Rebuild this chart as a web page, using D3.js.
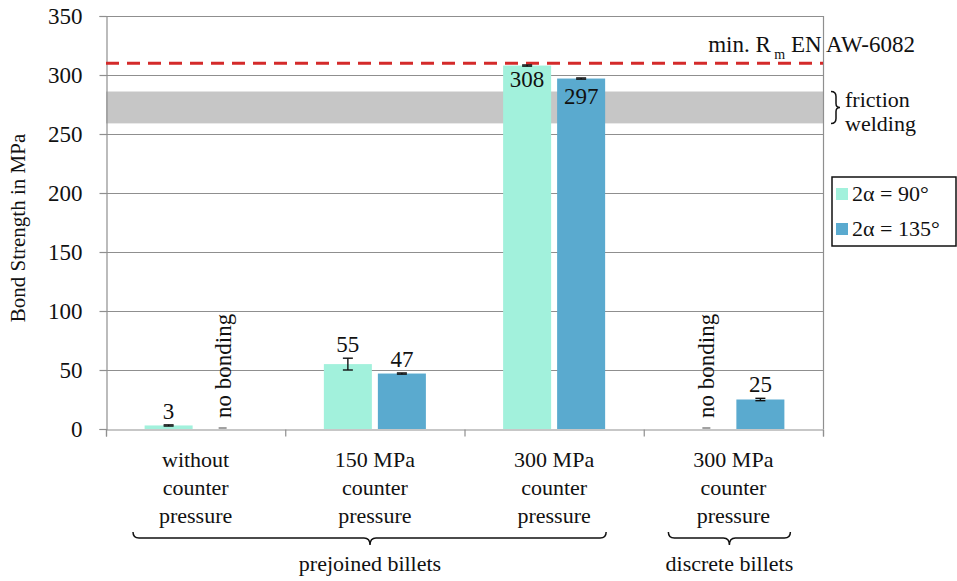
<!DOCTYPE html>
<html><head><meta charset="utf-8">
<script src="https://cdn.jsdelivr.net/npm/d3@7/dist/d3.min.js"></script>
<style>body{margin:0;background:#fff}svg text{font-family:'Liberation Serif','DejaVu Serif','Tinos','Nimbus Roman','FreeSerif','Times New Roman',Times,serif !important;fill:#111}</style>
</head><body><svg id="c" width="957" height="581"></svg>
<script>
const categories = ["without|counter|pressure","150 MPa|counter|pressure","300 MPa|counter|pressure","300 MPa|counter|pressure"];
const series = ["2α = 90°","2α = 135°"];
const vals90  = [3, 55, 308, null];
const vals135 = [null, 47, 297, 25];
const err90  = [0.5, 5, 0.5, 0];
const err135 = [0, 0.5, 0.5, 1];
const yTicks = [0,50,100,150,200,250,300,350];
const rmLine = 310;
const frictionBand = [259, 286];
const groups = [{label:"prejoined billets", from:0, to:2},{label:"discrete billets", from:3, to:3}];

const colors = ["#a2f1dc","#5aaacf"];
const svg = d3.select("#c");
const L=106,R=823,T=16,B=429;
const y = d3.scaleLinear().domain([0,350]).range([B,T]);
const x0 = d3.scaleBand().domain(d3.range(categories.length)).range([L,R]);
const x1 = d3.scaleBand().domain(d3.range(series.length)).range([0,x0.bandwidth()]).paddingInner(0.111).paddingOuter(0.715);

svg.append("rect").attr("x",L).attr("width",R-L).attr("y",y(frictionBand[1])).attr("height",y(frictionBand[0])-y(frictionBand[1])).attr("fill","#c6c6c6");
svg.append("g").selectAll("line").data(yTicks.filter(d=>d>0)).join("line")
 .attr("x1",L).attr("x2",R).attr("y1",d=>y(d)+0.5).attr("y2",d=>y(d)+0.5).attr("stroke","#8f8f8f").attr("stroke-width",1.2);
svg.append("line").attr("x1",R+0.5).attr("x2",R+0.5).attr("y1",T).attr("y2",B).attr("stroke","#8f8f8f").attr("stroke-width",1.2);
const ya = svg.append("g").attr("transform",`translate(${L+0.5},0)`).call(d3.axisLeft(y).tickValues(yTicks).tickSize(7).tickPadding(17));
ya.select(".domain").attr("stroke","#8f8f8f").attr("stroke-width",1.2);
ya.selectAll(".tick line").attr("stroke","#8f8f8f").attr("stroke-width",1.2);
ya.selectAll("text").style("font-size","23px").attr("fill","#111");
const xa = svg.append("g").attr("transform",`translate(0,${B+0.5})`).call(d3.axisBottom(d3.scaleLinear().domain([0,4]).range([L,R])).tickValues([0,1,2,3,4]).tickSize(7).tickFormat(""));
xa.select(".domain").attr("stroke","#8f8f8f").attr("stroke-width",1.2);
xa.selectAll(".tick line").attr("stroke","#8f8f8f").attr("stroke-width",1.2);

svg.append("line").attr("x1",L).attr("x2",R).attr("y1",y(rmLine)).attr("y2",y(rmLine)).attr("stroke","#d42a2a").attr("stroke-width",3).attr("stroke-dasharray","13,8");

const allVals=[vals90,vals135], allErr=[err90,err135];
allVals.forEach((vals,s)=>{
  vals.forEach((v,i)=>{
    const bx = x0(i)+x1(s), bw=x1.bandwidth(), cx=bx+bw/2;
    if(v===null){
      svg.append("line").attr("x1",cx-4).attr("x2",cx+4).attr("y1",B-1).attr("y2",B-1).attr("stroke","#444").attr("stroke-width",1);
      svg.append("text").attr("transform",`translate(${cx+8},${B-11}) rotate(-90)`).style("font-size","23px").text("no bonding");
      return;
    }
    svg.append("rect").attr("x",bx).attr("width",bw).attr("y",y(v)).attr("height",B-y(v)).attr("fill",colors[s]);
    const e=allErr[s][i];
    const g=svg.append("g").attr("stroke","#111").attr("stroke-width",1.4);
    g.append("line").attr("x1",cx).attr("x2",cx).attr("y1",y(v+e)).attr("y2",y(v-e));
    g.append("line").attr("x1",cx-5).attr("x2",cx+5).attr("y1",y(v+e)).attr("y2",y(v+e));
    g.append("line").attr("x1",cx-5).attr("x2",cx+5).attr("y1",y(v-e)).attr("y2",y(v-e));
    const inside = v>250;
    svg.append("text").attr("x",cx).attr("y",inside? y(v)+(s===0?21:25) : y(v+e)-6).attr("text-anchor","middle").style("font-size","23px").text(v);
  });
});

categories.forEach((c,i)=>{
  const cx=x0(i)+x0.bandwidth()/2;
  c.split("|").forEach((t,k)=>svg.append("text").attr("x",cx).attr("y",467+k*28).attr("text-anchor","middle").style("font-size","22px").text(t));
});

function hbrace(x1,x2,yTop,h,tip){
  const r=6;
  return `M${x1},${yTop} Q${x1},${yTop+r} ${x1+r},${yTop+r} L${tip-r},${yTop+r} Q${tip},${yTop+r} ${tip},${yTop+h} Q${tip},${yTop+r} ${tip+r},${yTop+r} L${x2-r},${yTop+r} Q${x2},${yTop+r} ${x2},${yTop}`;
}
groups.forEach(g=>{
  const ga = g.from===3 ? x0(g.from)+x1(0)-14 : L+27;
  const gb = g.from===3 ? x0(g.to)+x1(1)+x1.bandwidth()+6 : x0(g.to)+x1(1)+x1.bandwidth()+1;
  const tip = g.from===3?(ga+gb)/2:370;
  svg.append("path").attr("d",hbrace(ga,gb,532,13,tip)).attr("fill","none").attr("stroke","#111").attr("stroke-width",1.5);
  svg.append("text").attr("x",tip).attr("y",571).attr("text-anchor","middle").style("font-size","22px").text(g.label);
});

svg.append("text").attr("transform",`translate(25,228) rotate(-90)`).attr("text-anchor","middle").style("font-size","21px").text("Bond Strength in MPa");

const rt = svg.append("text").attr("x",915).attr("y",52).attr("text-anchor","end").style("font-size","23px");
rt.append("tspan").text("min. R");
rt.append("tspan").attr("dy",7).style("font-size","14px").text(" m");
rt.append("tspan").attr("dy",-7).text(" EN AW-6082");

const fy1=y(frictionBand[1]), fy2=y(frictionBand[0]), fm=(fy1+fy2)/2;
svg.append("path").attr("d",`M831,${fy1} Q836,${fy1} 836,${fy1+5} L836,${fm-4} Q836,${fm} 840,${fm} Q836,${fm} 836,${fm+4} L836,${fy2-5} Q836,${fy2} 831,${fy2}`).attr("fill","none").attr("stroke","#111").attr("stroke-width",1.5);
svg.append("text").attr("x",845).attr("y",107).style("font-size","22px").text("friction");
svg.append("text").attr("x",845).attr("y",131).style("font-size","22px").text("welding");

const lg=svg.append("g");
lg.append("rect").attr("x",832).attr("y",177).attr("width",124).attr("height",69).attr("fill","#fff").attr("stroke","#111").attr("stroke-width",1.5);
series.forEach((s,i)=>{
  lg.append("rect").attr("x",836).attr("y",188+i*35).attr("width",12).attr("height",12).attr("fill",colors[i]);
  lg.append("text").attr("x",852).attr("y",201+i*35).style("font-size","22px").text(s);
});
</script></body></html>
